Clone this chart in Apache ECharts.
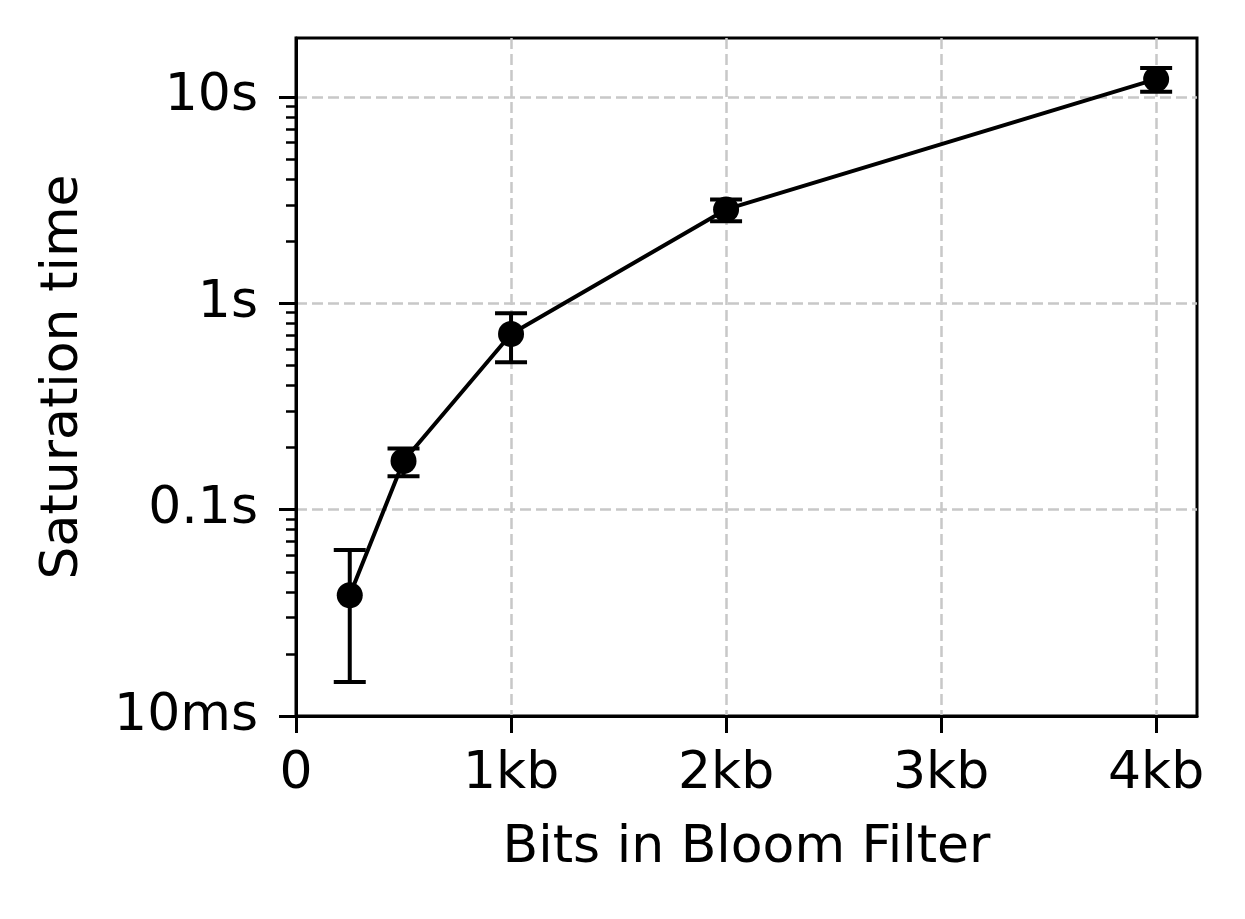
<!DOCTYPE html>
<html>
<head>
<meta charset="utf-8">
<script src="https://cdn.jsdelivr.net/npm/echarts@6/dist/echarts.min.js"></script>
<style>
  html, body { margin: 0; padding: 0; background: #fff; }
  #chart { width: 1245px; height: 919px; }
</style>
</head>
<body>
<div id="chart"></div>
<script>
// data (x in kb, y in seconds)
const bits = [0.25, 0.5, 1, 2, 4]
const satTime = [0.0385, 0.172, 0.71, 2.85, 12.2]
const errLow = [0.0146, 0.145, 0.518, 2.5, 10.6]
const errHigh = [0.0637, 0.198, 0.895, 3.18, 13.8]

const xTickVals = [0, 1, 2, 3, 4]
const xTickLabels = ['0', '1kb', '2kb', '3kb', '4kb']
const yTickVals = [0.01, 0.1, 1, 10]
const yTickLabels = ['10ms', '0.1s', '1s', '10s']
const yMinorVals = [0.02, 0.03, 0.04, 0.05, 0.06, 0.07, 0.08, 0.09,
  0.2, 0.3, 0.4, 0.5, 0.6, 0.7, 0.8, 0.9,
  2, 3, 4, 5, 6, 7, 8, 9]

const FONT = 'DejaVu Sans'
const FS = 52
const chart = echarts.init(document.getElementById('chart'))

const gridLine = { show: true, lineStyle: { color: '#c8c8c8', width: 2.5, type: [11, 5] } }

const option = {
  animation: false,
  backgroundColor: '#fff',
  textStyle: { fontFamily: FONT },
  grid: {
    left: 296, right: 48, top: 38, bottom: 203,
    show: true, borderColor: '#000', borderWidth: 3, backgroundColor: 'transparent'
  },
  xAxis: {
    type: 'value',
    min: 0,
    max: 4.19,
    name: 'Bits in Bloom Filter',
    nameLocation: 'middle',
    nameGap: 106,
    nameTextStyle: { color: '#000', fontSize: FS, fontFamily: FONT },
    axisLine: { lineStyle: { color: '#000', width: 3 } },
    axisTick: { customValues: xTickVals, length: 17, lineStyle: { color: '#000', width: 3 } },
    axisLabel: {
      customValues: xTickVals,
      margin: 32,
      color: '#000', fontSize: FS, fontFamily: FONT,
      formatter: v => xTickLabels[xTickVals.indexOf(v)] ?? ''
    },
    splitLine: gridLine
  },
  yAxis: [
    {
      type: 'log',
      min: 0.01,
      max: 19.3,
      name: 'Saturation time',
      nameLocation: 'middle',
      nameGap: 207,
      nameTextStyle: { color: '#000', fontSize: FS, fontFamily: FONT },
      axisLine: { lineStyle: { color: '#000', width: 3 } },
      axisTick: { customValues: yTickVals, length: 17, lineStyle: { color: '#000', width: 3 } },
      axisLabel: {
        customValues: yTickVals,
        margin: 38,
        color: '#000', fontSize: FS, fontFamily: FONT,
        formatter: v => {
          const i = yTickVals.findIndex(t => Math.abs(t - v) / t < 1e-6)
          return i >= 0 ? yTickLabels[i] : ''
        }
      },
      splitLine: gridLine
    },
    {
      // minor ticks of the log axis
      type: 'log',
      min: 0.01,
      max: 19.3,
      position: 'left',
      axisLine: { show: false },
      axisTick: { customValues: yMinorVals, length: 10, lineStyle: { color: '#000', width: 2.5 } },
      axisLabel: { show: false },
      splitLine: { show: false }
    }
  ],
  series: [
    {
      type: 'custom',
      name: 'err',
      z: 3,
      data: bits.map((b, i) => [b, errLow[i], errHigh[i]]),
      renderItem: (params, api) => {
        const lo = api.coord([api.value(0), api.value(1)])
        const hi = api.coord([api.value(0), api.value(2)])
        const cap = 16
        const style = { stroke: '#000', lineWidth: 4 }
        return {
          type: 'group',
          children: [
            { type: 'line', shape: { x1: lo[0], y1: lo[1], x2: hi[0], y2: hi[1] }, style },
            { type: 'line', shape: { x1: lo[0] - cap, y1: lo[1], x2: lo[0] + cap, y2: lo[1] }, style },
            { type: 'line', shape: { x1: hi[0] - cap, y1: hi[1], x2: hi[0] + cap, y2: hi[1] }, style }
          ]
        }
      }
    },
    {
      type: 'line',
      name: 'saturation',
      z: 4,
      data: bits.map((b, i) => [b, satTime[i]]),
      symbol: 'circle',
      symbolSize: 26,
      lineStyle: { color: '#000', width: 4 },
      itemStyle: { color: '#000' }
    }
  ]
}

chart.setOption(option)
</script>
</body>
</html>
